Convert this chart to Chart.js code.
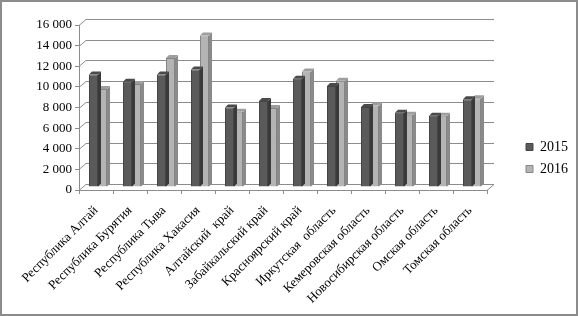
<!DOCTYPE html>
<html>
<head>
<meta charset="utf-8">
<script src="https://cdn.jsdelivr.net/npm/chart.js@4.4.0/dist/chart.umd.min.js"></script>
<style>
  html, body { margin: 0; padding: 0; background: #fff; }
  #wrap { width: 578px; height: 316px; }
</style>
</head>
<body>
<div id="wrap"><canvas id="chart" width="578" height="316"></canvas></div>
<script>
// regions
const categories = [
  'Республика Алтай', 'Республика Бурятия', 'Республика Тыва', 'Республика Хакасия',
  'Алтайский  край', 'Забайкальский край', 'Красноярский край', 'Иркутская  область',
  'Кемеровская область', 'Новосибирская область', 'Омская область', 'Томская область'
];
const seriesNames = ['2015', '2016'];
const values2015 = [10900, 10200, 10900, 11400, 7700, 8350, 10500, 9800, 7750, 7200, 6900, 8500];
const values2016 = [9500, 10000, 12500, 14700, 7300, 7650, 11200, 10300, 7900, 7000, 6900, 8600];
const yTicks = [0, 2000, 4000, 6000, 8000, 10000, 12000, 14000, 16000];

const serif = "'Liberation Serif', 'Times New Roman', 'DejaVu Serif', serif";
const front = ['#5a5a5a', '#b4b4b4'];
const side = ['#3a3a3a', '#8a8a8a'];
const top_ = ['#4a4a4a', '#9e9e9e'];
const DX = 7, DY = -6;   // back wall offset
const BX = 2, BY = -3;   // bars sit mid depth
const BD = 3;            // bar depth

// fake 3D: walls, bar sides and tops
const shade3d = {
  id: 'shade3d',
  beforeDraw(chart) {
    const ctx = chart.ctx;
    ctx.save();
    ctx.fillStyle = '#fff';
    ctx.fillRect(0, 0, chart.width, chart.height);
    ctx.strokeStyle = '#8c8c8c';
    ctx.lineWidth = 2;
    ctx.strokeRect(1, 1, chart.width - 2, chart.height - 2);
    ctx.restore();
  },
  beforeDatasetsDraw(chart) {
    const {ctx, chartArea: {left, right, bottom}, scales: {y}} = chart;
    ctx.save();
    ctx.strokeStyle = '#8c8c8c';
    ctx.lineWidth = 1;
    yTicks.forEach(v => {
      const py = Math.round(y.getPixelForValue(v)) + 0.5;
      ctx.beginPath();
      ctx.moveTo(left, py);
      ctx.lineTo(left + DX, py + DY);
      ctx.lineTo(right + DX, py + DY);
      ctx.stroke();
    });
    ctx.beginPath();
    ctx.moveTo(right, Math.round(bottom) + 0.5);
    ctx.lineTo(right + DX, Math.round(bottom) + 0.5 + DY);
    ctx.stroke();
    ctx.restore();
    ctx.save();
    ctx.translate(BX, BY);
  },
  afterDatasetDraw(chart, args) {
    const ctx = chart.ctx;
    const i = args.index;
    args.meta.data.forEach(bar => {
      const {x, y, base, width} = bar.getProps(['x', 'y', 'base', 'width'], true);
      const l = x - width / 2, r = x + width / 2;
      ctx.fillStyle = side[i];
      ctx.beginPath();
      ctx.moveTo(r, y);
      ctx.lineTo(r + BD, y - BD);
      ctx.lineTo(r + BD, base - BD);
      ctx.lineTo(r, base);
      ctx.closePath();
      ctx.fill();
      ctx.fillStyle = top_[i];
      ctx.beginPath();
      ctx.moveTo(l, y);
      ctx.lineTo(l + BD, y - BD);
      ctx.lineTo(r + BD, y - BD);
      ctx.lineTo(r, y);
      ctx.closePath();
      ctx.fill();
    });
  },
  afterDatasetsDraw(chart) {
    chart.ctx.restore();
  }
};

const fmt = v => String(v).replace(/\B(?=(\d{3})+(?!\d))/g, ' ');

new Chart(document.getElementById('chart'), {
  type: 'bar',
  data: {
    labels: categories,
    datasets: [
      { label: seriesNames[0], data: values2015, backgroundColor: front[0], borderColor: '#444', borderWidth: 1 },
      { label: seriesNames[1], data: values2016, backgroundColor: front[1], borderColor: '#858585', borderWidth: 1 }
    ]
  },
  options: {
    responsive: false,
    animation: false,
    layout: { padding: 0 },
    datasets: { bar: { categoryPercentage: 0.53, barPercentage: 1 } },
    plugins: {
      tooltip: { enabled: false },
      legend: {
        position: 'right',
        labels: {
          boxWidth: 7, boxHeight: 7, padding: 8,
          color: '#000',
          font: { family: serif, size: 14 }
        }
      }
    },
    scales: {
      x: {
        grid: { drawOnChartArea: false, tickLength: 4, color: '#8c8c8c' },
        border: { color: '#8c8c8c' },
        ticks: {
          minRotation: 45, maxRotation: 45, autoSkip: false,
          color: '#000', font: { family: serif, size: 13 }, padding: 9
        },
        afterFit(s) { s.height = 126; }
      },
      y: {
        min: 0, max: 16000,
        grid: { drawOnChartArea: false, tickLength: 4, color: '#8c8c8c' },
        border: { color: '#8c8c8c' },
        ticks: {
          stepSize: 2000, padding: 3, color: '#000',
          font: { family: serif, size: 13 },
          callback: v => fmt(v)
        },
        afterFit(s) { s.width = 79; }
      },
      gapTop: {
        position: 'top', display: true,
        grid: { display: false }, border: { display: false },
        ticks: { display: false },
        afterFit(s) { s.height = 25; }
      },
      gap: {
        position: 'right', display: true,
        grid: { display: false }, border: { display: false },
        ticks: { display: false },
        afterFit(s) { s.width = 31; }
      }
    }
  },
  plugins: [shade3d]
});
</script>
</body>
</html>
